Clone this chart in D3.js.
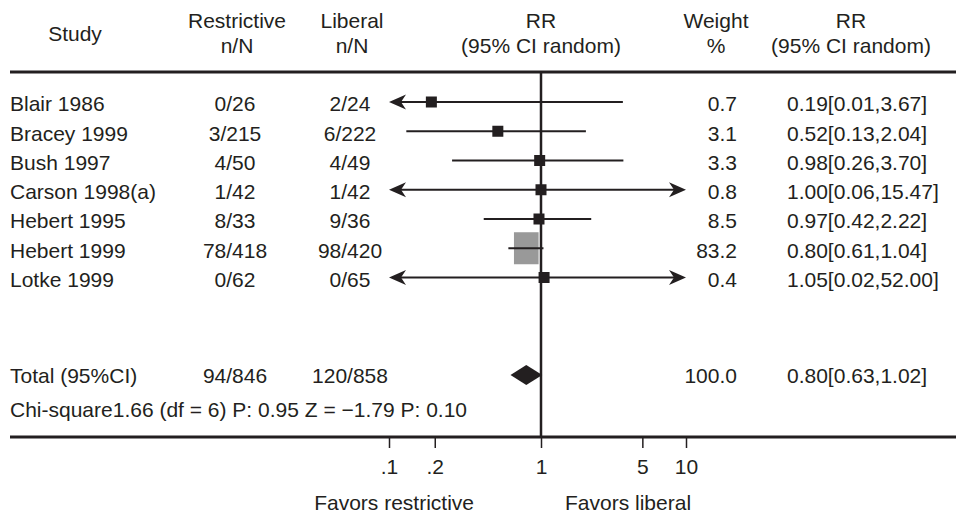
<!DOCTYPE html>
<html>
<head>
<meta charset="utf-8">
<script src="https://cdn.jsdelivr.net/npm/d3@7"></script>
<style>
  body { margin: 0; background: #fff; }
  text { font-family: "Liberation Sans", Arial, sans-serif; font-size: 21px; fill: #231f20; }
</style>
</head>
<body>
<svg id="chart"></svg>
<script>
var studies     = ["Blair 1986", "Bracey 1999", "Bush 1997", "Carson 1998(a)", "Hebert 1995", "Hebert 1999", "Lotke 1999"];
var restrictive = ["0/26", "3/215", "4/50", "1/42", "8/33", "78/418", "0/62"];
var liberal     = ["2/24", "6/222", "4/49", "1/42", "9/36", "98/420", "0/65"];
var rr          = [0.19, 0.52, 0.98, 1.00, 0.97, 0.80, 1.05];
var lower       = [0.01, 0.13, 0.26, 0.06, 0.42, 0.61, 0.02];
var upper       = [3.67, 2.04, 3.70, 15.47, 2.22, 1.04, 52.00];
var weight      = [0.7, 3.1, 3.3, 0.8, 8.5, 83.2, 0.4];

var totalRestrictive = "94/846";
var totalLiberal     = "120/858";
var totalRR = 0.80, totalLower = 0.63, totalUpper = 1.02, totalWeight = 100.0;
var statsText = "Chi-square1.66 (df = 6) P: 0.95 Z = \u22121.79 P: 0.10";

var tickValues = [0.1, 0.2, 1, 5, 10];
var tickLabels = [".1", ".2", "1", "5", "10"];

function forest(){
  var width  = 956;
  var height = 514;
  var ink = "#231f20";

  var svg = d3.select('#chart')
              .attr('width', width)
              .attr('height', height);

  // log scale for risk ratio
  var xScale = d3.scaleLog()
                 .domain([0.1, 1, 10])
                 .range([389, 541, 686]);

  // row positions
  var yScale = d3.scaleLinear()
                 .domain([0, studies.length - 1])
                 .range([102, 277.5]);

  var totalY = 376;
  var statsY = 410;
  var axisY  = 437;

  var col = { study: 10, restr: 235, lib: 350, weight: 737, rr: 787 };

  // header
  var header = svg.append('g').attr('class', 'header');
  header.append('text').attr('x', 75).attr('y', 34).attr('dy', '0.35em')
        .attr('text-anchor', 'middle').text('Study');
  var headPairs = [
    [col.restr + 2, 'Restrictive', 'n/N'],
    [col.lib + 2, 'Liberal', 'n/N'],
    [xScale(1), 'RR', '(95% CI random)'],
    [716, 'Weight', '%'],
    [851, 'RR', '(95% CI random)']
  ];
  headPairs.forEach(function(h){
    header.append('text').attr('x', h[0]).attr('y', 21).attr('dy', '0.35em')
          .attr('text-anchor', 'middle').text(h[1]);
    header.append('text').attr('x', h[0]).attr('y', 46).attr('dy', '0.35em')
          .attr('text-anchor', 'middle').text(h[2]);
  });

  // rules
  svg.append('line')
     .attr('x1', 10).attr('x2', width).attr('y1', 72).attr('y2', 72)
     .attr('stroke', ink).attr('stroke-width', 3);
  svg.append('line')
     .attr('x1', 10).attr('x2', width).attr('y1', axisY).attr('y2', axisY)
     .attr('stroke', ink).attr('stroke-width', 3);
  svg.append('line')
     .attr('x1', xScale(1)).attr('x2', xScale(1)).attr('y1', 72).attr('y2', axisY)
     .attr('stroke', ink).attr('stroke-width', 2.5);

  // text columns
  var rows = svg.append('g').attr('class', 'rows');
  studies.forEach(function(s, i){
    var y = yScale(i) + 2;
    rows.append('text').attr('x', col.study).attr('y', y).attr('dy', '0.35em').text(s);
    rows.append('text').attr('x', col.restr).attr('y', y).attr('dy', '0.35em')
        .attr('text-anchor', 'middle').text(restrictive[i]);
    rows.append('text').attr('x', col.lib).attr('y', y).attr('dy', '0.35em')
        .attr('text-anchor', 'middle').text(liberal[i]);
    rows.append('text').attr('x', col.weight).attr('y', y).attr('dy', '0.35em')
        .attr('text-anchor', 'end').text(weight[i].toFixed(1));
    rows.append('text').attr('x', col.rr).attr('y', y).attr('dy', '0.35em')
        .text(rr[i].toFixed(2) + '[' + lower[i].toFixed(2) + ',' + upper[i].toFixed(2) + ']');
  });

  // marks
  var dMin = xScale.domain()[0], dMax = xScale.domain()[2];
  var sizeScale = d3.scaleSqrt().domain([0, 100]).range([0, 27]);
  var marks = svg.append('g').attr('class', 'marks');

  // boxes first (big box sits under its line)
  studies.forEach(function(s, i){
    var w = Math.max(11, sizeScale(weight[i]));
    var h = weight[i] > 20 ? w * 1.3 : w;
    marks.append('rect')
         .attr('x', xScale(rr[i]) - w / 2)
         .attr('y', yScale(i) - h / 2)
         .attr('width', w).attr('height', h)
         .attr('fill', weight[i] > 20 ? '#999999' : ink);
  });

  function arrow(xTip, y, dir){
    // dir -1: points left, +1: points right
    var p = d3.path();
    p.moveTo(xTip, y);
    p.lineTo(xTip - dir * 17, y - 7.5);
    p.lineTo(xTip - dir * 12, y);
    p.lineTo(xTip - dir * 17, y + 7.5);
    p.closePath();
    marks.append('path').attr('d', p.toString()).attr('fill', ink);
  }

  studies.forEach(function(s, i){
    var y = yScale(i);
    var lo = Math.max(lower[i], dMin);
    var hi = Math.min(upper[i], dMax);
    marks.append('line')
         .attr('x1', xScale(lo) + (lower[i] < dMin ? 12 : 0))
         .attr('x2', xScale(hi) - (upper[i] > dMax ? 12 : 0))
         .attr('y1', y).attr('y2', y)
         .attr('stroke', ink).attr('stroke-width', 2);
    if (lower[i] < dMin) arrow(xScale(dMin), y, -1);
    if (upper[i] > dMax) arrow(xScale(dMax), y, 1);
  });

  // total row
  var ty = totalY;
  rows.append('text').attr('x', col.study).attr('y', ty).attr('dy', '0.35em').text('Total (95%CI)');
  rows.append('text').attr('x', col.restr).attr('y', ty).attr('dy', '0.35em')
      .attr('text-anchor', 'middle').text(totalRestrictive);
  rows.append('text').attr('x', col.lib).attr('y', ty).attr('dy', '0.35em')
      .attr('text-anchor', 'middle').text(totalLiberal);
  rows.append('text').attr('x', col.weight).attr('y', ty).attr('dy', '0.35em')
      .attr('text-anchor', 'end').text(totalWeight.toFixed(1));
  rows.append('text').attr('x', col.rr).attr('y', ty).attr('dy', '0.35em')
      .text(totalRR.toFixed(2) + '[' + totalLower.toFixed(2) + ',' + totalUpper.toFixed(2) + ']');

  marks.append('path')
       .attr('d', 'M' + xScale(totalLower) + ',' + (ty - 1) +
                  'L' + xScale(totalRR) + ',' + (ty - 11) +
                  'L' + xScale(totalUpper) + ',' + (ty - 1) +
                  'L' + xScale(totalRR) + ',' + (ty + 9) + 'Z')
       .attr('fill', ink);

  rows.append('text').attr('x', col.study).attr('y', statsY).attr('dy', '0.35em').text(statsText);

  // bottom axis
  var xAxis = d3.axisBottom(xScale)
                .tickValues(tickValues)
                .tickFormat(function(d, i){ return tickLabels[i]; })
                .tickSize(11)
                .tickSizeOuter(0)
                .tickPadding(11);

  var gAxis = svg.append('g')
                 .attr('class', 'x_axis')
                 .attr('transform', 'translate(0,' + axisY + ')')
                 .call(xAxis);
  gAxis.select('.domain').remove();
  gAxis.selectAll('.tick line').attr('stroke', ink).attr('stroke-width', 1.5);
  gAxis.selectAll('.tick text')
       .style('font-family', '"Liberation Sans", Arial, sans-serif')
       .style('font-size', '21px')
       .attr('fill', ink);

  svg.append('text').attr('x', xScale(1) - 67).attr('y', 503).attr('dy', '0.35em')
     .attr('text-anchor', 'end').text('Favors restrictive');
  svg.append('text').attr('x', xScale(1) + 24).attr('y', 503).attr('dy', '0.35em')
     .text('Favors liberal');
}

forest();
</script>
</body>
</html>
